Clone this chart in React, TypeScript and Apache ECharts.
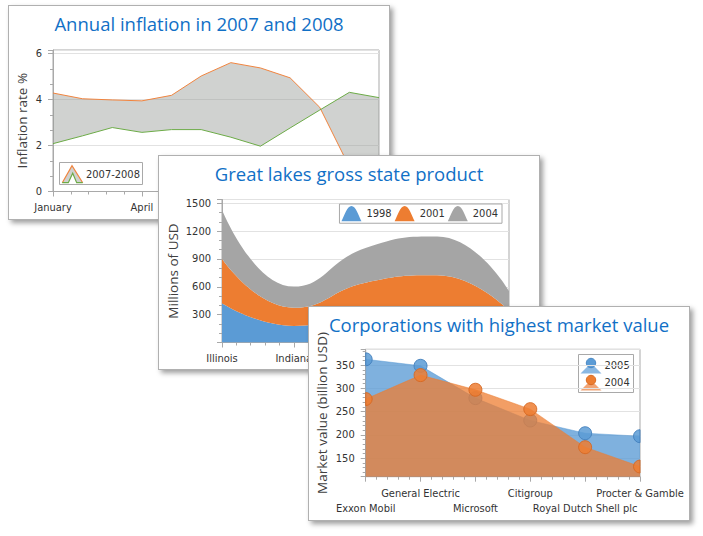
import React, { useEffect, useRef } from 'react';
import * as echarts from 'echarts';

// ---------- Data ----------
const months = ['January', 'February', 'March', 'April', 'May', 'June', 'July', 'August', 'September', 'October', 'November', 'December'];
const inflation2008 = [4.28, 4.03, 3.98, 3.94, 4.18, 5.02, 5.6, 5.37, 4.94, 3.66, 1.07, 0.09];
const inflation2007 = [2.08, 2.42, 2.78, 2.57, 2.69, 2.69, 2.36, 1.97, 2.76, 3.54, 4.31, 4.08];

const states = ['Illinois', 'Indiana', 'Michigan', 'Ohio', 'Wisconsin'];
const gsp1998 = [423.7, 178.7, 308.8, 348.6, 160.3];
const gsp2001 = [476.9, 195.8, 335.8, 374.8, 182.4];
const gsp2004 = [528.9, 227.3, 372.6, 418.3, 211.7];
const gspYears = ['1998', '2001', '2004'];

const companies = ['Exxon Mobil', 'General Electric', 'Microsoft', 'Citigroup', 'Royal Dutch Shell plc', 'Procter & Gamble'];
const value2005 = [362.5, 348.5, 279.0, 230.9, 203.5, 197.1];
const value2004 = [277.0, 328.5, 297.0, 255.3, 173.5, 131.9];

// ---------- Styles ----------
const PW = 382;
const PH = 215;
const TITLE_FONT = "'Open Sans', 'Noto Sans', sans-serif";
const AXIS_FONT = "'DejaVu Sans Condensed', 'Liberation Sans', sans-serif";
const TITLE_COLOR = '#1170c6';
const TEXT_COLOR = '#333333';
const NAME_COLOR = '#404040';
const AXIS_COLOR = '#a9a9a9';
const GRID_COLOR = '#e2e2e2';

const BLUE = '#5b9bd5';
const ORANGE = '#ed7d31';
const GRAY = '#a5a5a5';

const titleOpt = (text: string) => ({
  text,
  left: 'center',
  top: 8,
  padding: 0,
  textStyle: { fontFamily: TITLE_FONT, fontSize: 18.5, fontWeight: 'normal', color: TITLE_COLOR },
});

const labelStyle = { fontFamily: AXIS_FONT, fontSize: 11, color: TEXT_COLOR };
const plain = (v: number) => String(v);

const axisCommon = {
  axisLine: { show: true, lineStyle: { color: AXIS_COLOR, width: 1 } },
  axisTick: { show: true, length: 5, lineStyle: { color: AXIS_COLOR } },
};

const gridOpt = (left: number, right: number, top: number, bottom: number) => ({
  left, right, top, bottom,
  show: true,
  borderColor: AXIS_COLOR,
  borderWidth: 1,
  backgroundColor: 'transparent',
  containLabel: false,
  outerBoundsMode: 'none',
});

const nameStyle = { fontFamily: TITLE_FONT, fontSize: 13.5, color: NAME_COLOR };

// ---------- Chart 1: range area ----------
const option1: any = {
  animation: false,
  title: titleOpt('Annual inflation in 2007 and 2008'),
  grid: gridOpt(44, 10, 44, 27.5),
  xAxis: {
    type: 'value', min: 0, max: months.length - 1, interval: 3,
    ...axisCommon,
    minorTick: { show: true, splitNumber: 5, length: 3, lineStyle: { color: AXIS_COLOR } },
    splitLine: { show: false },
    axisLabel: { ...labelStyle, margin: 8, lineHeight: 15, showMinLabel: true, showMaxLabel: false, formatter: (v: number) => months[v] ?? '' },
  },
  yAxis: {
    type: 'value', min: 0, max: 6.15, interval: 2,
    name: 'Inflation rate %', nameLocation: 'middle', nameGap: 24.5, nameMoveOverlap: false, nameTextStyle: nameStyle,
    ...axisCommon,
    minorTick: { show: true, splitNumber: 3, length: 3, lineStyle: { color: AXIS_COLOR } },
    splitLine: { show: true, lineStyle: { color: GRID_COLOR } },
    axisLabel: { ...labelStyle, margin: 11, showMinLabel: true, showMaxLabel: false, formatter: plain },
  },
  series: [
    {
      type: 'custom',
      name: '2007-2008',
      data: [[0, inflation2007[0]]],
      encode: { x: 0, y: 1 },
      z: 2,
      renderItem: (params: any, api: any) => {
        const upper = inflation2008.map((v, i) => api.coord([i, v]));
        const lower = inflation2007.map((v, i) => api.coord([i, v])).reverse();
        return {
          type: 'polygon',
          shape: { points: upper.concat(lower) },
          style: { fill: 'rgba(150,155,150,0.45)' },
        };
      },
    },
    {
      type: 'line', name: '2008', data: inflation2008.map((v, i) => [i, v]), symbol: 'none', z: 3,
      lineStyle: { color: '#f0843f', width: 1 },
    },
    {
      type: 'line', name: '2007', data: inflation2007.map((v, i) => [i, v]), symbol: 'none', z: 3,
      lineStyle: { color: '#6cab47', width: 1 },
    },
  ],
  graphic: [
    {
      type: 'group', z: 10,
      children: [
        { type: 'rect', shape: { x: 50.5, y: 156.5, width: 83, height: 22 }, style: { fill: '#fff', stroke: AXIS_COLOR, lineWidth: 1 } },
        { type: 'polygon', shape: { points: [[63, 159.7], [73.7, 176.7], [67.7, 176.7], [63.7, 167.3], [59.3, 176.7], [53.3, 176.7]] }, style: { fill: '#cfd1cf' } },
        { type: 'polyline', shape: { points: [[53.3, 176.7], [63, 159.7], [73.7, 176.7]] }, style: { stroke: '#f0843f', lineWidth: 1.2, fill: null } },
        { type: 'polyline', shape: { points: [[53.3, 176.7], [59.3, 176.7], [63.7, 167.3], [67.7, 176.7], [73.7, 176.7]] }, style: { stroke: '#6cab47', lineWidth: 1.2, fill: null } },
        { type: 'text', style: { x: 77, y: 168, text: '2007-2008', fontFamily: AXIS_FONT, fontSize: 11, fill: TEXT_COLOR, verticalAlign: 'middle', align: 'left' } },
      ],
    },
  ],
};

// ---------- Chart 2: stacked spline area ----------
const bellIcon = 'path://M0,16 C3,10 6,0 10.5,0 C15,0 18,10 21,16 Z';
const gspSeries = (name: string, vals: number[], color: string) => ({
  name, type: 'line', stack: 'gsp', smooth: true, symbol: 'none',
  xAxisIndex: 0,
  data: vals,
  lineStyle: { width: 0, color },
  itemStyle: { color },
  areaStyle: { color, opacity: 1 },
});

const option2: any = {
  animation: false,
  title: titleOpt('Great lakes gross state product'),
  grid: gridOpt(63, 30, 43.5, 26.5),
  legend: {
    right: 37, top: 48, orient: 'horizontal',
    itemWidth: 20, itemHeight: 16, itemGap: 3,
    padding: [2, 4, 2, 2],
    borderColor: AXIS_COLOR, borderWidth: 1, borderRadius: 0, backgroundColor: '#fff',
    textStyle: labelStyle,
    data: gspYears.map((y) => ({ name: y, icon: bellIcon })),
  },
  xAxis: [
    {
      type: 'category', data: states, boundaryGap: false, position: 'bottom',
      ...axisCommon,
      splitLine: { show: false },
      axisLabel: { ...labelStyle, margin: 8, lineHeight: 15, interval: 0 },
    },
    {
      type: 'value', min: 0, max: states.length - 1, interval: 1, position: 'bottom',
      axisLine: { show: false },
      axisTick: { show: false },
      minorTick: { show: true, splitNumber: 5, length: 3, lineStyle: { color: AXIS_COLOR } },
      splitLine: { show: false },
      axisLabel: { show: false },
    },
  ],
  yAxis: {
    type: 'value', min: 0, max: 1540, interval: 300,
    name: 'Millions of USD', nameLocation: 'middle', nameGap: 42.5, nameMoveOverlap: false, nameTextStyle: nameStyle,
    ...axisCommon,
    minorTick: { show: true, splitNumber: 3, length: 3, lineStyle: { color: AXIS_COLOR } },
    splitLine: { show: true, lineStyle: { color: GRID_COLOR } },
    axisLabel: { ...labelStyle, margin: 11, showMaxLabel: false, showMinLabel: false, formatter: plain },
  },
  series: [
    gspSeries(gspYears[0], gsp1998, BLUE),
    gspSeries(gspYears[1], gsp2001, ORANGE),
    gspSeries(gspYears[2], gsp2004, GRAY),
  ],
};

// ---------- Chart 3: overlapping areas with markers ----------
const markerSeries = (name: string, vals: number[], fill: string, stroke: string, z: number) => ({
  type: 'custom', name, z,
  data: vals.map((v, i) => [i, v]),
  encode: { x: 0, y: 1 },
  renderItem: (params: any, api: any) => {
    const p = api.coord([api.value(0), api.value(1)]);
    const cs = params.coordSys;
    const r = 6.5;
    const style = { fill, stroke, lineWidth: 1 };
    if (p[0] - r < cs.x - 0.01) {
      return { type: 'sector', shape: { cx: p[0], cy: p[1], r, r0: 0, startAngle: -Math.PI / 2, endAngle: Math.PI / 2, clockwise: true }, style };
    }
    if (p[0] + r > cs.x + cs.width + 0.01) {
      return { type: 'sector', shape: { cx: p[0], cy: p[1], r, r0: 0, startAngle: Math.PI / 2, endAngle: (3 * Math.PI) / 2, clockwise: true }, style };
    }
    return { type: 'circle', shape: { cx: p[0], cy: p[1], r }, style };
  },
});

const areaSeries = (name: string, vals: number[], color: string, opacity: number, z: number) => ({
  name, type: 'line', symbol: 'none', z,
  data: vals.map((v, i) => [i, v]),
  lineStyle: { width: 1, color, opacity: 0.5 },
  itemStyle: { color },
  areaStyle: { color, opacity, origin: 'start' },
});

const legend3 = (cy: number, text: string, light: string, dark: string, stroke: string) => [
  { type: 'polygon', shape: { points: [[282, cy - 2], [271.5, cy + 8.5], [292.5, cy + 8.5]] }, style: { fill: light } },
  { type: 'circle', shape: { cx: 282, cy: cy - 2, r: 4.7 }, style: { fill: dark, stroke, lineWidth: 1 } },
  { type: 'text', style: { x: 295.5, y: cy, text, fontFamily: AXIS_FONT, fontSize: 11, fill: TEXT_COLOR, verticalAlign: 'middle', align: 'left' } },
];

// staggered category labels: odd indices on the upper row, even on the lower row
const rowLabel = (row: number) => (v: number) => (Number.isInteger(v) && v % 2 === row ? companies[v] ?? '' : '');

const option3: any = {
  animation: false,
  title: titleOpt('Corporations with highest market value'),
  grid: gridOpt(56.7, 49, 42.3, 43.3),
  xAxis: [
    {
      type: 'value', min: 0, max: companies.length - 1, interval: 1, position: 'bottom',
      ...axisCommon,
      minorTick: { show: true, splitNumber: 5, length: 3, lineStyle: { color: AXIS_COLOR } },
      splitLine: { show: false },
      axisLabel: {
        ...labelStyle, margin: 9, lineHeight: 15,
        showMinLabel: true, showMaxLabel: true, hideOverlap: false,
        formatter: rowLabel(1),
      },
    },
    {
      type: 'value', min: 0, max: companies.length - 1, interval: 1, position: 'bottom',
      axisLine: { show: false },
      axisTick: { show: false },
      splitLine: { show: false },
      axisLabel: {
        ...labelStyle, margin: 24.6, lineHeight: 15,
        showMinLabel: true, showMaxLabel: true, hideOverlap: false,
        formatter: rowLabel(0),
      },
    },
  ],
  yAxis: {
    type: 'value', min: 110, max: 384, splitNumber: 5,
    name: 'Market value (billion USD)', nameLocation: 'middle', nameGap: 36.5, nameMoveOverlap: false, nameTextStyle: nameStyle,
    ...axisCommon,
    minorTick: { show: true, splitNumber: 5, length: 3, lineStyle: { color: AXIS_COLOR } },
    splitLine: { show: true, lineStyle: { color: GRID_COLOR } },
    axisLabel: { ...labelStyle, margin: 11, showMaxLabel: false, showMinLabel: false, formatter: plain },
  },
  series: [
    areaSeries('2005', value2005, BLUE, 0.78, 2),
    markerSeries('2005', value2005, 'rgba(91,155,213,0.85)', 'rgba(66,128,188,0.9)', 3),
    areaSeries('2004', value2004, ORANGE, 0.75, 4),
    markerSeries('2004', value2004, 'rgba(237,125,49,0.85)', 'rgba(214,104,34,0.9)', 5),
  ],
  graphic: [
    {
      type: 'group', z: 10,
      children: [
        { type: 'rect', shape: { x: 269.5, y: 47.5, width: 55, height: 38 }, style: { fill: '#fff', stroke: AXIS_COLOR, lineWidth: 1 } },
        ...legend3(58, '2005', '#8ab8e3', '#5b9bd5', '#4a88c4'),
        ...legend3(75, '2004', '#f2a474', '#ed7d31', '#d86a22'),
      ],
    },
  ],
};

// ---------- Components ----------
function Panel({ left, top, option }: { left: number; top: number; option: any }) {
  const ref = useRef<HTMLDivElement>(null);
  useEffect(() => {
    const chart = echarts.init(ref.current as HTMLDivElement, null, { renderer: 'svg' });
    chart.setOption(option);
    return () => chart.dispose();
  }, [option]);
  return (
    <div
      style={{
        position: 'absolute',
        left,
        top,
        width: PW,
        height: PH,
        boxSizing: 'border-box',
        border: '1px solid #b0b0b0',
        background: '#fff',
        boxShadow: '3px 3px 5px rgba(0,0,0,0.38)',
      }}
    >
      <div ref={ref} style={{ width: PW - 2, height: PH - 2 }} />
    </div>
  );
}

export default function App() {
  return (
    <div style={{ position: 'absolute', left: 0, top: 0, width: 703, height: 536, background: '#fff', overflow: 'hidden' }}>
      <Panel left={8} top={5} option={option1} />
      <Panel left={158} top={155} option={option2} />
      <Panel left={308} top={306} option={option3} />
    </div>
  );
}
